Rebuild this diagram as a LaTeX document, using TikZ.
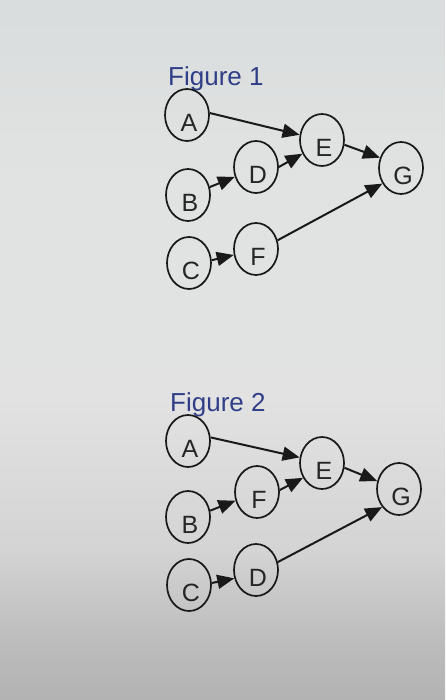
\documentclass[tikz,border=0pt]{standalone}
\usepackage{fontspec}
\setmainfont{Liberation Sans}
\usetikzlibrary{shapes.geometric,arrows.meta}
\definecolor{titleblue}{RGB}{48,62,135}
\pgfdeclareverticalshading{bgshade}{100bp}{
  rgb(0bp)=(0.70,0.70,0.70);
  rgb(25bp)=(0.70,0.70,0.70);
  rgb(29.3bp)=(0.74,0.74,0.74);
  rgb(35.7bp)=(0.83,0.83,0.83);
  rgb(46.4bp)=(0.885,0.885,0.885);
  rgb(64.3bp)=(0.88,0.885,0.885);
  rgb(75bp)=(0.85,0.865,0.865);
  rgb(100bp)=(0.85,0.865,0.865)}
\begin{document}
\begin{tikzpicture}[x=1pt,y=-1pt,
  vtx/.style={draw=black!90, line width=1.7pt, ellipse, minimum width=44pt, minimum height=52pt, inner sep=0pt},
  lab/.style={font=\fontsize{25}{25}\selectfont, text=black!85, inner sep=0pt, xshift=2pt, yshift=-8pt},
  arr/.style={line width=2pt, draw=black!90, -{Triangle[length=17pt,width=14pt]}},
  ttl/.style={anchor=base west, inner sep=0pt, font=\fontsize{26}{26}\selectfont, text=titleblue}]
\shade[shading=bgshade] (0,0) rectangle (445,700);
\useasboundingbox (0,0) rectangle (445,700);
% Figure 1
\node[ttl] (t1) at (168,86) {Figure 1};
\node[vtx, label={[lab]center:A}] (A1) at (187,115) {};
\node[vtx, label={[lab]center:E}] (E1) at (322,140) {};
\node[vtx, label={[lab]center:D}] (D1) at (256,167) {};
\node[vtx, label={[lab]center:G}] (G1) at (401,168) {};
\node[vtx, label={[lab]center:B}] (B1) at (188,195) {};
\node[vtx, label={[lab]center:F}] (F1) at (256,249) {};
\node[vtx, label={[lab]center:C}] (C1) at (189,263) {};
\draw[arr] (A1.5) -- (E1.167);
\draw[arr] (D1.0) -- (E1.215);
\draw[arr] (B1.20) -- (D1.205);
\draw[arr] (E1.-12) -- (G1.154);
\draw[arr] (C1.7) -- (F1.195);
\draw[arr] (F1.22) -- (G1.220);
% Figure 2
\node[ttl] (t2) at (170,411) {Figure 2};
\node[vtx, label={[lab]center:A}] (A2) at (188,441) {};
\node[vtx, label={[lab]center:E}] (E2) at (322,463) {};
\node[vtx, label={[lab]center:F}] (F2) at (257,492) {};
\node[vtx, label={[lab]center:G}] (G2) at (399,489) {};
\node[vtx, label={[lab]center:B}] (B2) at (188,517) {};
\node[vtx, label={[lab]center:D}] (D2) at (256,570) {};
\node[vtx, label={[lab]center:C}] (C2) at (189,585) {};
\draw[arr] (A2.9) -- (E2.166);
\draw[arr] (F2.5) -- (E2.218);
\draw[arr] (B2.16) -- (F2.202);
\draw[arr] (E2.-12) -- (G2.160);
\draw[arr] (C2.5) -- (D2.201);
\draw[arr] (D2.20) -- (G2.227);
\end{tikzpicture}
\end{document}
